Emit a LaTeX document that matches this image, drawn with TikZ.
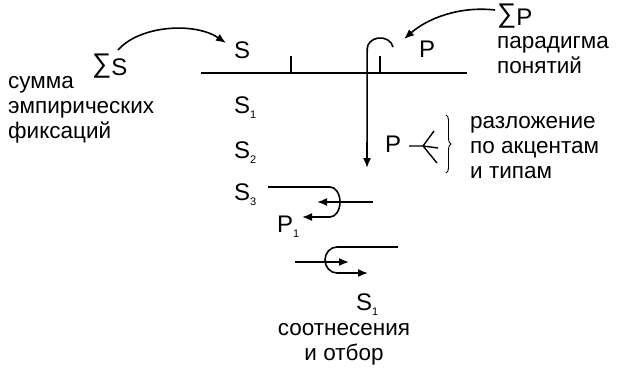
\documentclass[tikz,border=0pt]{standalone}
\usepackage{fontspec}
\setmainfont{Liberation Sans}
\usetikzlibrary{arrows.meta,decorations.pathreplacing}
\tikzset{
  txt/.style={font=\fontsize{22.5}{25}\selectfont, inner sep=0pt, anchor=base west},
  lbl/.style={font=\fontsize{24}{25}\selectfont, inner sep=0pt, anchor=base west},
  ln/.style={line width=1.4pt},
  arr/.style={line width=1.6pt, -{Latex[length=10pt,width=8pt]}},
}
\newcommand{\sbs}[1]{{\fontsize{11}{11}\selectfont\raisebox{-5pt}{#1}}}
\newcommand{\sgm}{{\fontsize{27}{27}\selectfont\raisebox{2.5pt}{∑}}}
\begin{document}
\begin{tikzpicture}[x=1pt,y=-1pt]
\useasboundingbox (0,0) rectangle (617,373);
% left texts
\node[lbl] (sumS) at (92,75) {\sgm S};
\node[txt] (t1) at (8,88) {сумма};
\node[txt] (t2) at (8,113) {эмпирических};
\node[txt] (t3) at (8,138) {фиксаций};
% S column
\node[lbl] (S) at (234,58) {S};
\node[lbl] (S1) at (234,113) {S\sbs{1}};
\node[lbl] (S2) at (234,158) {S\sbs{2}};
\node[lbl] (S3) at (234,200) {S\sbs{3}};
% right texts
\node[lbl] (sumP) at (497,25) {\sgm P};
\node[txt] (r1) at (497,48) {парадигма};
\node[txt] (r2) at (497,73) {понятий};
\node[lbl] (P) at (419,57) {P};
\node[lbl] (Pf) at (385,152) {P};
\node[txt] (d1) at (470,128) {разложение};
\node[txt] (d2) at (470,153) {по акцентам};
\node[txt] (d3) at (470,178) {и типам};
\node[lbl] (P1) at (277,232) {P\sbs{1}};
\node[lbl] (S1b) at (356,310) {S\sbs{1}};
\node[txt, anchor=base] (c1) at (344,335) {соотнесения};
\node[txt, anchor=base] (c2) at (344,360) {и отбор};
% main line and ticks
\coordinate (hl) at (201,73);
\coordinate (hr) at (467,73);
\draw[ln] (hl) -- (hr);
\coordinate (k1a) at (291,56); \coordinate (k1b) at (291,73);
\coordinate (k2a) at (380,56); \coordinate (k2b) at (380,73);
\draw[ln] (k1a) -- (k1b);
\draw[ln] (k2a) -- (k2b);
% curved arrows
\coordinate (aS) at (118,50);
\coordinate (aSe) at (226,43);
\draw[arr] (aS) .. controls (140,25) and (195,22) .. (aSe);
\coordinate (aP) at (495,10);
\coordinate (aPe) at (404,39);
\draw[arr] (aP) .. controls (460,6) and (428,18) .. (aPe);
% hook with vertical arrow
\coordinate (hk) at (393,47);
\coordinate (vend) at (367,168);
\draw[arr] (hk) arc[start angle=10,end angle=180,x radius=13pt,y radius=11pt] -- (vend);
% fork
\coordinate (f0) at (409,146);
\coordinate (fj) at (423,146);
\coordinate (fa) at (434,131);
\coordinate (fb) at (438,148);
\coordinate (fc) at (437,163);
\draw[ln] (f0) -- (fj) (fa) -- (fj) -- (fb) (fj) -- (fc);
% brace
\coordinate (b1) at (446,115);
\coordinate (b2) at (446,173);
\draw[line width=0.9pt, decorate, decoration={brace, amplitude=5pt}] (b1) -- (b2);
% S3 hook
\coordinate (h3a) at (268,187);
\coordinate (h3b) at (330,187);
\coordinate (h3e) at (302,217);
\draw[arr] (h3a) -- (h3b) arc[start angle=90,end angle=-90,x radius=10pt,y radius=15pt] -- (h3e);
\coordinate (m3a) at (373,202);
\coordinate (m3e) at (317,202);
\draw[arr] (m3a) -- (m3e);
% lower hook
\coordinate (h4a) at (398,247);
\coordinate (h4b) at (337,247);
\coordinate (h4e) at (368,273);
\draw[arr] (h4a) -- (h4b) arc[start angle=90,end angle=270,x radius=12pt,y radius=13pt] -- (h4e);
\coordinate (m4a) at (295,262);
\coordinate (m4e) at (349,262);
\draw[arr] (m4a) -- (m4e);
\end{tikzpicture}
\end{document}
